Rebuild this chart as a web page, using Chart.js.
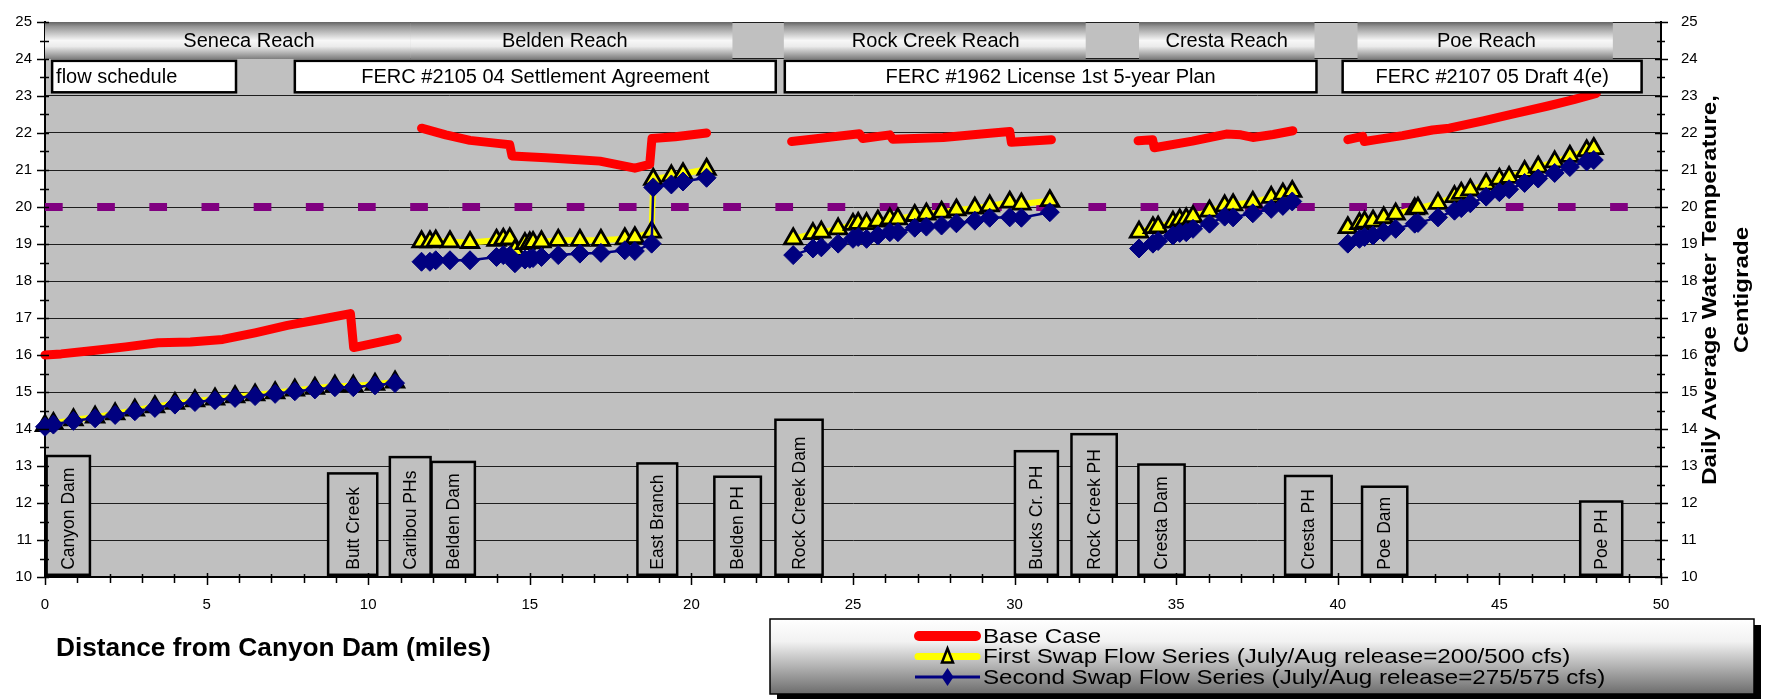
<!DOCTYPE html>
<html>
<head>
<meta charset="utf-8">
<script src="https://cdn.jsdelivr.net/npm/chart.js@4.4.1/dist/chart.umd.min.js"></script>
<style>
  html, body { margin: 0; padding: 0; background: #ffffff; }
  canvas { display: block; }
</style>
</head>
<body>
<canvas id="chart" width="1773" height="699"></canvas>
<script>
// ---------------- DATA ----------------
const baseMiles = [0, 0.5, 1.5, 2.5, 3.5, 4.5, 5.5, 6.5, 7.5, 8.5, 9.45, 9.55, 10.9, null,
  11.65, 12.4, 13.15, 14.0, 14.38, 14.45, 15.5, 16.5, 17.17, 18.25, 18.71, 18.78, 19.5, 20.47, null,
  23.1, 24.2, 25.2, 25.3, 26.14, 26.23, 27.79, 28.8, 29.85, 29.9, 31.14, null,
  33.82, 34.27, 34.32, 35.5, 36.55, 37.0, 37.37, 38.0, 38.61, null,
  40.31, 40.77, 40.82, 41.19, 42.0, 42.93, 43.45, 44.5, 45.5, 46.5, 47.3, 48.0];
const baseTemp = [16.0, 16.03, 16.12, 16.22, 16.33, 16.35, 16.42, 16.6, 16.8, 16.96, 17.12, 16.2, 16.45, null,
  22.13, 21.95, 21.8, 21.72, 21.68, 21.38, 21.33, 21.28, 21.24, 21.05, 21.15, 21.85, 21.9, 22.0, null,
  21.77, 21.88, 21.98, 21.85, 21.95, 21.83, 21.88, 21.96, 22.04, 21.75, 21.82, null,
  21.79, 21.82, 21.6, 21.78, 21.97, 21.95, 21.88, 21.96, 22.06, null,
  21.82, 21.91, 21.77, 21.82, 21.93, 22.08, 22.13, 22.33, 22.53, 22.73, 22.9, 23.07];

const swapMiles = [0, 0.26, 0.88, 1.55, 2.17, 2.78, 3.4, 4.02, 4.64, 5.26, 5.88, 6.5, 7.12, 7.73, 8.35, 8.97, 9.54, 10.21, 10.83, null,
  11.65, 11.91, 12.09, 12.53, 13.15, 13.97, 14.18, 14.38, 14.54, 14.85, 15.0, 15.1, 15.36, 15.88, 16.55, 17.2, 17.94, 18.25, 18.77, 18.82, 19.38, 19.74, 20.47, null,
  23.15, 23.76, 24.02, 24.54, 25.0, 25.16, 25.42, 25.77, 26.14, 26.39, 26.91, 27.27, 27.74, 28.2, 28.77, 29.23, 29.85, 30.21, 31.09, null,
  33.85, 34.28, 34.44, 34.9, 35.11, 35.31, 35.52, 36.03, 36.5, 36.76, 37.37, 37.94, 38.3, 38.59, null,
  40.31, 40.67, 40.83, 41.09, 41.42, 41.79, 42.38, 42.48, 43.1, 43.61, 43.82, 44.1, 44.59, 45.0, 45.3, 45.78, 46.2, 46.71, 47.18, 47.7, 47.92];
const firstSwapTemp = [14.09, 14.15, 14.25, 14.32, 14.41, 14.51, 14.6, 14.69, 14.76, 14.81, 14.87, 14.92, 14.98, 15.05, 15.1, 15.16, 15.16, 15.21, 15.27, null,
  19.06, 19.06, 19.08, 19.06, 19.04, 19.1, 19.13, 19.14, 18.83, 19.01, 19.03, 19.04, 19.06, 19.1, 19.1, 19.1, 19.14, 19.17, 19.32, 20.75, 20.84, 20.9, 21.02, null,
  19.14, 19.28, 19.32, 19.41, 19.53, 19.56, 19.55, 19.62, 19.68, 19.68, 19.77, 19.81, 19.86, 19.92, 19.97, 20.03, 20.13, 20.08, 20.17, null,
  19.32, 19.44, 19.46, 19.59, 19.65, 19.68, 19.74, 19.89, 20.03, 20.06, 20.13, 20.26, 20.35, 20.42, null,
  19.44, 19.55, 19.59, 19.62, 19.71, 19.81, 19.95, 19.97, 20.1, 20.28, 20.37, 20.46, 20.62, 20.75, 20.8, 20.96, 21.08, 21.22, 21.37, 21.52, 21.58];
const secondSwapTemp = [14.06, 14.12, 14.22, 14.29, 14.38, 14.48, 14.57, 14.66, 14.73, 14.78, 14.84, 14.89, 14.95, 15.02, 15.07, 15.13, 15.13, 15.18, 15.24, null,
  18.52, 18.52, 18.56, 18.56, 18.56, 18.65, 18.7, 18.68, 18.48, 18.58, 18.6, 18.62, 18.65, 18.7, 18.74, 18.76, 18.83, 18.81, 19.01, 20.53, 20.61, 20.69, 20.79, null,
  18.7, 18.88, 18.91, 19.01, 19.14, 19.19, 19.14, 19.23, 19.32, 19.32, 19.44, 19.47, 19.5, 19.56, 19.63, 19.71, 19.72, 19.71, 19.86, null,
  18.88, 19.01, 19.08, 19.23, 19.3, 19.32, 19.41, 19.55, 19.74, 19.72, 19.83, 19.95, 20.03, 20.15, null,
  19.01, 19.14, 19.19, 19.23, 19.32, 19.41, 19.55, 19.57, 19.72, 19.9, 19.97, 20.1, 20.28, 20.4, 20.48, 20.65, 20.77, 20.92, 21.08, 21.23, 21.27];

const criterionMiles = [0, 50];
const criterionTemp = [20, 20];

const seriesNames = ['Base Case',
  'First Swap Flow Series (July/Aug release=200/500 cfs)',
  'Second Swap Flow Series (July/Aug release=275/575 cfs)'];

const xTickValues = [0, 5, 10, 15, 20, 25, 30, 35, 40, 45, 50];
const yTickValues = [10, 11, 12, 13, 14, 15, 16, 17, 18, 19, 20, 21, 22, 23, 24, 25];

const xAxisTitle = 'Distance from Canyon Dam (miles)';
const yAxisTitle = ['Daily Average Water Temperature,', 'Centigrade'];

// header annotations (in miles / °C)
const reachNames   = ['Seneca Reach', 'Belden Reach', 'Rock Creek Reach', 'Cresta Reach', 'Poe Reach'];
const reachStart   = [0, 11.32, 22.86, 33.85, 40.61];
const reachEnd     = [11.32, 21.27, 32.2, 39.28, 48.51];
const reachLabelAt = [6.31, 16.08, 27.56, 36.56, 44.6];

const scheduleNames = ['flow schedule', 'FERC #2105 04 Settlement Agreement', 'FERC #1962 License 1st 5-year Plan', 'FERC #2107 05 Draft 4(e)'];
const scheduleStart = [0.22, 7.73, 22.89, 40.15];
const scheduleEnd   = [5.91, 22.61, 39.34, 49.4];

const siteNames = ['Canyon Dam', 'Butt Creek', 'Caribou PHs', 'Belden Dam', 'East Branch', 'Belden PH', 'Rock Creek Dam',
  'Bucks Cr. PH', 'Rock Creek PH', 'Cresta Dam', 'Cresta PH', 'Poe Dam', 'Poe PH'];
const siteStart = [0.05, 8.76, 10.67, 11.96, 18.33, 20.71, 22.6, 30.01, 31.76, 33.83, 38.37, 40.75, 47.5];
const siteEnd   = [1.39, 10.28, 11.93, 13.3, 19.56, 22.15, 24.06, 31.34, 33.16, 35.26, 39.81, 42.15, 48.8];
const siteTop   = [13.27, 12.8, 13.24, 13.11, 13.07, 12.71, 14.25, 13.4, 13.86, 13.04, 12.73, 12.44, 12.04];

// ---------------- CHART ----------------
const FONT = "'Liberation Sans', Arial, Helvetica, sans-serif";
const xy = (xs, ys) => xs.map((v, i) => ({ x: v, y: ys[i] }));

function scaledText(ctx, text, x, y, sx, align) {
  ctx.save();
  ctx.translate(x, y);
  ctx.scale(sx, 1);
  ctx.textAlign = align;
  ctx.fillText(text, 0, 0);
  ctx.restore();
}

const plotBg = {
  id: 'plotBg',
  beforeDraw(chart) {
    const { ctx, chartArea: a } = chart;
    ctx.save();
    ctx.fillStyle = '#c0c0c0';
    ctx.fillRect(a.left, a.top, a.right - a.left, a.bottom - a.top);
    ctx.restore();
  }
};

const annotations = {
  id: 'annotations',
  afterDatasetsDraw(chart) {
    const { ctx } = chart;
    const xs = chart.scales.x, ys = chart.scales.y;
    ctx.save();
    // reach bands
    const yT = ys.getPixelForValue(25), yB = ys.getPixelForValue(24);
    reachNames.forEach((name, i) => {
      const x0 = xs.getPixelForValue(reachStart[i]), x1 = xs.getPixelForValue(reachEnd[i]);
      const g = ctx.createLinearGradient(0, yT, 0, yB);
      g.addColorStop(0, '#646464');
      g.addColorStop(0.12, '#949494');
      g.addColorStop(0.5, '#f7f7f7');
      g.addColorStop(0.66, '#ebebeb');
      g.addColorStop(1, '#7e7e7e');
      ctx.fillStyle = g;
      ctx.fillRect(x0, yT, x1 - x0, yB - yT);
      ctx.fillStyle = '#000';
      ctx.font = `20px ${FONT}`;
      ctx.textAlign = 'center';
      ctx.textBaseline = 'middle';
      ctx.fillText(name, xs.getPixelForValue(reachLabelAt[i]), (yT + yB) / 2 + 1);
    });
    // schedule boxes
    const sT = ys.getPixelForValue(23.95), sB = ys.getPixelForValue(23.1);
    scheduleNames.forEach((name, i) => {
      const x0 = xs.getPixelForValue(scheduleStart[i]), x1 = xs.getPixelForValue(scheduleEnd[i]);
      ctx.fillStyle = '#ffffff';
      ctx.fillRect(x0, sT, x1 - x0, sB - sT);
      ctx.lineWidth = 2.5;
      ctx.strokeStyle = '#000';
      ctx.strokeRect(x0, sT, x1 - x0, sB - sT);
      ctx.fillStyle = '#000';
      ctx.font = `20px ${FONT}`;
      ctx.textBaseline = 'middle';
      if (i === 0) {
        ctx.textAlign = 'left';
        ctx.fillText(name, x0 + 4, (sT + sB) / 2 + 1);
      } else {
        ctx.textAlign = 'center';
        ctx.fillText(name, (x0 + x1) / 2, (sT + sB) / 2 + 1);
      }
    });
    // site boxes
    const bB = ys.getPixelForValue(10.06);
    siteNames.forEach((name, i) => {
      const x0 = xs.getPixelForValue(siteStart[i]), x1 = xs.getPixelForValue(siteEnd[i]);
      const t = ys.getPixelForValue(siteTop[i]);
      ctx.fillStyle = '#c0c0c0';
      ctx.fillRect(x0, t, x1 - x0, bB - t);
      ctx.lineWidth = 2.5;
      ctx.strokeStyle = '#000';
      ctx.strokeRect(x0, t, x1 - x0, bB - t);
      ctx.save();
      ctx.translate((x0 + x1) / 2, bB - 5);
      ctx.rotate(-Math.PI / 2);
      ctx.fillStyle = '#000';
      ctx.font = `17.5px ${FONT}`;
      ctx.textAlign = 'left';
      ctx.textBaseline = 'middle';
      ctx.fillText(name, 0, 1);
      ctx.restore();
    });
    ctx.restore();
  }
};

const decorations = {
  id: 'decorations',
  afterDraw(chart) {
    const { ctx, chartArea: a } = chart;
    const xs = chart.scales.x, ys = chart.scales.y;
    ctx.save();
    // tick marks
    ctx.strokeStyle = '#000';
    ctx.lineWidth = 1.5;
    ctx.beginPath();
    for (let m = 0; m <= 50; m++) {
      const px = Math.round(xs.getPixelForValue(m)) + 0.5;
      const major = m % 5 === 0;
      ctx.moveTo(px, a.bottom - (major ? 4 : 3));
      ctx.lineTo(px, a.bottom + (major ? 8 : 6));
    }
    for (let v = 10; v <= 25; v += 0.5) {
      const py = Math.round(ys.getPixelForValue(v)) + 0.5;
      const major = Number.isInteger(v);
      ctx.moveTo(a.left - (major ? 8 : 5), py);
      ctx.lineTo(a.left + 4, py);
      ctx.moveTo(a.right - (major ? 6 : 4), py);
      ctx.lineTo(a.right + (major ? 7 : 4), py);
    }
    ctx.stroke();

    // x axis title
    ctx.fillStyle = '#000';
    ctx.font = `bold 25px ${FONT}`;
    ctx.textBaseline = 'alphabetic';
    scaledText(ctx, xAxisTitle, 56, 656, 1.05, 'left');

    // right axis title (rotated, reading bottom-to-top)
    ctx.font = `bold 21px ${FONT}`;
    ctx.textBaseline = 'middle';
    [[yAxisTitle[0], 1710], [yAxisTitle[1], 1742]].forEach(([t, cx]) => {
      ctx.save();
      ctx.translate(cx, 290);
      ctx.rotate(-Math.PI / 2);
      ctx.scale(1.15, 1);
      ctx.textAlign = 'center';
      ctx.fillText(t, 0, 0);
      ctx.restore();
    });

    // legend
    const L = 770, T = 619, R = 1754, B = 694;
    ctx.fillStyle = '#000';
    ctx.fillRect(L + 7, T + 6, R - L, B - T);
    const g = ctx.createLinearGradient(0, T, 0, B);
    g.addColorStop(0, '#ffffff');
    g.addColorStop(0.3, '#f2f2f2');
    g.addColorStop(1, '#6c6c6c');
    ctx.fillStyle = g;
    ctx.fillRect(L, T, R - L, B - T);
    ctx.lineWidth = 1.5;
    ctx.strokeStyle = '#000';
    ctx.strokeRect(L, T, R - L, B - T);

    const ds = chart.data.datasets;
    const rows = [636, 656.5, 677];
    const sx0 = 915, sx1 = 980, mx = 947.5;
    // base case sample
    ctx.lineCap = 'round';
    ctx.strokeStyle = ds[0].borderColor;
    ctx.lineWidth = 10;
    ctx.beginPath(); ctx.moveTo(sx0 + 4, rows[0]); ctx.lineTo(sx1 - 4, rows[0]); ctx.stroke();
    // first swap sample
    ctx.strokeStyle = ds[1].borderColor;
    ctx.lineWidth = 7;
    ctx.beginPath(); ctx.moveTo(sx0 + 3, rows[1]); ctx.lineTo(sx1 - 3, rows[1]); ctx.stroke();
    ctx.lineCap = 'butt';
    ctx.beginPath();
    ctx.moveTo(mx, rows[1] - 8); ctx.lineTo(mx + 5.5, rows[1] + 6); ctx.lineTo(mx - 5.5, rows[1] + 6); ctx.closePath();
    ctx.fillStyle = ds[1].pointBackgroundColor; ctx.fill();
    ctx.lineWidth = 2.5; ctx.strokeStyle = '#000'; ctx.stroke();
    // second swap sample
    ctx.strokeStyle = ds[2].borderColor;
    ctx.lineWidth = 3;
    ctx.beginPath(); ctx.moveTo(sx0, rows[2]); ctx.lineTo(sx1, rows[2]); ctx.stroke();
    ctx.beginPath();
    ctx.moveTo(mx, rows[2] - 9); ctx.lineTo(mx + 6, rows[2]); ctx.lineTo(mx, rows[2] + 9); ctx.lineTo(mx - 6, rows[2]); ctx.closePath();
    ctx.fillStyle = ds[2].pointBackgroundColor; ctx.fill();

    ctx.fillStyle = '#000';
    ctx.font = `21px ${FONT}`;
    ctx.textBaseline = 'middle';
    for (let i = 0; i < 3; i++) scaledText(ctx, ds[i].label, 983, rows[i] + 1, 1.15, 'left');
    ctx.restore();
  }
};

const tickFont = { family: FONT, size: 15 };

new Chart(document.getElementById('chart'), {
  type: 'line',
  data: {
    datasets: [
      {
        label: seriesNames[0],
        data: xy(baseMiles, baseTemp),
        borderColor: '#ff0000',
        backgroundColor: '#ff0000',
        borderWidth: 9,
        borderCapStyle: 'round',
        borderJoinStyle: 'round',
        pointRadius: 0,
        spanGaps: false,
        clip: false,
        order: 2
      },
      {
        label: seriesNames[1],
        data: xy(swapMiles, firstSwapTemp),
        borderColor: '#ffff00',
        backgroundColor: '#ffff00',
        borderWidth: 6,
        borderCapStyle: 'round',
        borderJoinStyle: 'round',
        pointStyle: 'triangle',
        pointRadius: 10,
        pointBackgroundColor: '#ffff00',
        pointBorderColor: '#000000',
        pointBorderWidth: 2.8,
        spanGaps: false,
        clip: false,
        order: 1
      },
      {
        label: seriesNames[2],
        data: xy(swapMiles, secondSwapTemp),
        borderColor: '#000080',
        backgroundColor: '#000080',
        borderWidth: 2.5,
        pointStyle: 'rectRot',
        pointRadius: 9.5,
        pointBackgroundColor: '#000080',
        pointBorderColor: '#000080',
        pointBorderWidth: 1,
        spanGaps: false,
        clip: false,
        order: 0
      },
      {
        label: '20 °C',
        data: xy(criterionMiles, criterionTemp),
        borderColor: '#800080',
        borderWidth: 8,
        borderDash: [17.7, 34.47],
        borderCapStyle: 'butt',
        pointRadius: 0,
        clip: false,
        order: 3
      }
    ]
  },
  options: {
    responsive: false,
    animation: false,
    devicePixelRatio: 1,
    events: [],
    layout: { padding: { top: 17.5, left: 0, right: 0, bottom: 0 } },
    plugins: { legend: { display: false }, tooltip: { enabled: false }, title: { display: false } },
    elements: { line: { tension: 0 } },
    scales: {
      x: {
        type: 'linear',
        min: 0, max: 50,
        afterBuildTicks: s => { s.ticks = xTickValues.map(v => ({ value: v })); },
        afterFit: s => { s.height = 122; },
        ticks: { font: tickFont, color: '#000', padding: 11, autoSkip: false, maxRotation: 0 },
        grid: { display: false },
        border: { display: true, color: '#000', width: 2 }
      },
      y: {
        type: 'linear',
        position: 'left',
        min: 10, max: 25,
        afterBuildTicks: s => { s.ticks = yTickValues.map(v => ({ value: v })); },
        afterFit: s => { s.width = 45; },
        ticks: { font: tickFont, color: '#000', padding: 13 },
        grid: { display: true, color: '#1e1e1e', lineWidth: 1, drawTicks: false },
        border: { display: true, color: '#000', width: 2 }
      },
      y2: {
        type: 'linear',
        position: 'right',
        min: 10, max: 25,
        afterBuildTicks: s => { s.ticks = yTickValues.map(v => ({ value: v })); },
        afterFit: s => { s.width = 112; },
        ticks: { font: tickFont, color: '#000', padding: 12 },
        grid: { display: false },
        border: { display: true, color: '#000', width: 2 }
      }
    }
  },
  plugins: [plotBg, annotations, decorations]
});
</script>
</body>
</html>
